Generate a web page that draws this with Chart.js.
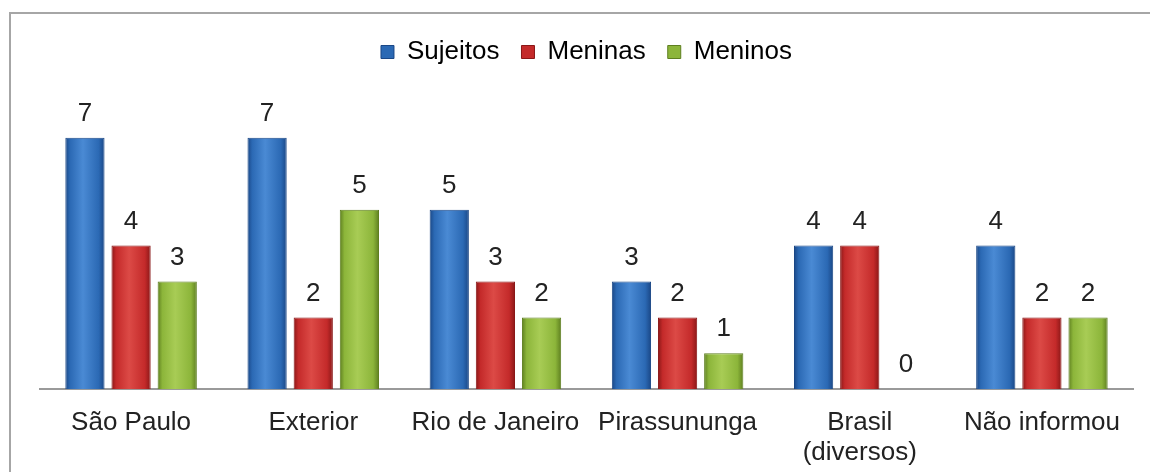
<!DOCTYPE html>
<html>
<head>
<meta charset="utf-8">
<script src="https://cdn.jsdelivr.net/npm/chart.js@4/dist/chart.umd.min.js"></script>
<style>
    html, body { margin: 0; padding: 0; background: #fff; }
    #wrap { position: relative; width: 1150px; height: 472px; overflow: hidden; }
    #frame { position: absolute; left: 9px; top: 12px; width: 1200px; height: 520px; border: 2px solid #a6a6a6; box-sizing: border-box; }
    canvas { position: absolute; left: 0; top: 0; }
</style>
</head>
<body>
<div id="wrap">
    <div id="frame"></div>
    <canvas id="chart" width="1150" height="485"></canvas>
</div>
<script>
// categories and series
const categories = ['São Paulo', 'Exterior', 'Rio de Janeiro', 'Pirassununga', ['Brasil', '(diversos)'], 'Não informou'];
const sujeitos = [7, 7, 5, 3, 4, 4];
const meninas = [4, 2, 3, 2, 4, 2];
const meninos = [3, 5, 2, 1, 0, 2];

// base, edge and highlight colours for the shaded bars
const shades = {
    blue: ['#2b69b4', '#1a4786', '#4a8ad4'],
    red: ['#c42a2a', '#8a1717', '#dc4a46'],
    green: ['#8cb53a', '#5e7f20', '#a8cc55']
};

function barFill(shade) {
    return function (context) {
        const el = context.element;
        if (!el || el.width === undefined || isNaN(el.x)) return shade[0];
        const ctx = context.chart.ctx;
        const g = ctx.createLinearGradient(el.x - el.width / 2, 0, el.x + el.width / 2, 0);
        g.addColorStop(0, shade[1]);
        g.addColorStop(0.12, shade[0]);
        g.addColorStop(0.45, shade[2]);
        g.addColorStop(0.85, shade[0]);
        g.addColorStop(1, shade[1]);
        return g;
    };
}

// value labels above each bar
const valueLabels = {
    id: 'valueLabels',
    afterDatasetsDraw(chart) {
        const ctx = chart.ctx;
        ctx.save();
        ctx.font = '26px "Liberation Sans", Arial, sans-serif';
        ctx.fillStyle = '#222';
        ctx.textAlign = 'center';
        ctx.textBaseline = 'middle';
        chart.data.datasets.forEach((ds, di) => {
            chart.getDatasetMeta(di).data.forEach((bar, i) => {
                ctx.fillText(String(ds.data[i]), bar.x, bar.y - 24);
            });
        });
        ctx.restore();
    }
};

const chart = new Chart(document.getElementById('chart'), {
    type: 'bar',
    data: {
        labels: categories,
        datasets: [
            { label: 'Sujeitos', data: sujeitos, backgroundColor: barFill(shades.blue), borderColor: shades.blue[1], borderWidth: 1 },
            { label: 'Meninas', data: meninas, backgroundColor: barFill(shades.red), borderColor: shades.red[1], borderWidth: 1 },
            { label: 'Meninos', data: meninos, backgroundColor: barFill(shades.green), borderColor: shades.green[1], borderWidth: 1 }
        ]
    },
    options: {
        responsive: false,
        animation: false,
        categoryPercentage: 0.76,
        barPercentage: 0.85,
        layout: { padding: { left: 40, right: 17, top: 17, bottom: 6 } },
        plugins: {
            legend: {
                position: 'top',
                labels: {
                    boxWidth: 13,
                    boxHeight: 13,
                    padding: 22,
                    color: '#222',
                    font: { family: '"Liberation Sans", Arial, sans-serif', size: 26 },
                    generateLabels(chart) {
                        const keys = ['blue', 'red', 'green'];
                        return chart.data.datasets.map((ds, i) => ({
                            text: ds.label,
                            fillStyle: shades[keys[i]][0],
                            strokeStyle: shades[keys[i]][1],
                            lineWidth: 1,
                            datasetIndex: i,
                            hidden: false
                        }));
                    }
                }
            },
            title: { display: false },
            tooltip: { enabled: false }
        },
        scales: {
            x: {
                grid: { display: false },
                border: { display: true, color: '#9a9a9a', width: 2 },
                ticks: {
                    color: '#222',
                    padding: 11,
                    maxRotation: 0,
                    autoSkip: false,
                    font: { family: '"Liberation Sans", Arial, sans-serif', size: 26, lineHeight: 1.15 }
                }
            },
            y: {
                display: false,
                min: 0,
                max: 8.75
            }
        }
    },
    plugins: [valueLabels]
});
chart.update();
</script>
</body>
</html>
